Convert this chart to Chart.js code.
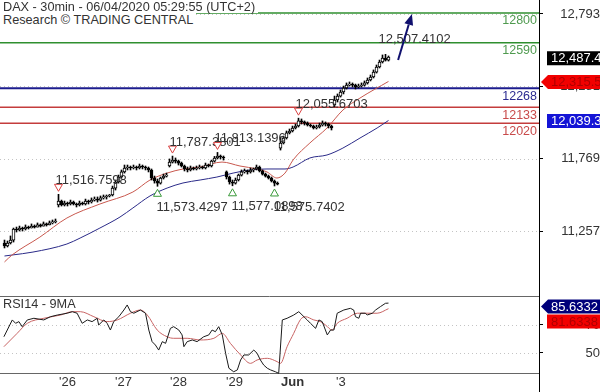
<!DOCTYPE html>
<html><head><meta charset="utf-8">
<script src="https://cdn.jsdelivr.net/npm/chart.js@4.4.1/dist/chart.umd.min.js"></script>
<style>
html,body{margin:0;padding:0;background:#fff;overflow:hidden}
#wrap{position:relative;width:600px;height:392px;background:#fff}
#c1{position:absolute;left:0;top:0}
#c2{position:absolute;left:0;top:296px}
.t{position:absolute;left:0;font:12.7px 'Liberation Sans',Arial,sans-serif;color:#333;background:#fff;padding:0 3px 0 3px;white-space:nowrap}
</style></head><body>
<div id="wrap">
<canvas id="c1" width="600" height="296"></canvas>
<canvas id="c2" width="600" height="96"></canvas>
<div class="t" style="top:0;height:13px;line-height:14px">DAX - 30min - 06/04/2020 05:29:55 (UTC+2)</div>
<div class="t" style="top:13px;height:14px;line-height:14px">Research © TRADING CENTRAL</div>
<div class="t" style="top:298px;line-height:13px">RSI14 - 9MA</div>
</div>
<script>
// ---------------- DATA ----------------
const priceTicks = [12793, 12281, 11769, 11257];
const rsiTicks = [50, 70];
const dayTicks = [18.17, 36.83, 55.17, 73.83, 92.17, 110.5];
const dayLabels = ["'26", "'27", "'28", "'29", "Jun", "'3"];

const opens = [11172,11151,11172,11193,11271,11264,11278,11271,11285,11278,11292,11285,11300,11292,11307,11300,11314,11321,
11441,11469,11441,11455,11448,11462,11448,11441,11455,11448,11469,11462,11476,11483,11476,11491,11498,11505,11512,
11561,11604,11639,11675,11703,11710,11703,11710,11703,11717,11710,11703,11689,11632,11611,11596,11632,11646,
11717,11745,11759,11752,11738,11717,11696,11689,11703,11696,11703,11710,11703,11724,11717,11752,11774,11788,11781,
11675,11639,11604,11596,11618,11653,11675,11682,11675,11689,11696,11710,11682,11660,11646,11632,11611,11596,
11844,11880,11915,11951,11965,11986,12000,12036,12029,12021,12007,12000,11986,11993,12007,12021,12014,12000,
12149,12184,12212,12241,12269,12290,12297,12290,12276,12283,12290,12305,12326,12347,12382,12418,12453,12481,12467];
const closes = [11151,11172,11193,11271,11264,11278,11271,11285,11278,11292,11285,11300,11292,11307,11300,11314,11321,11328,
11469,11441,11455,11448,11462,11448,11441,11455,11448,11469,11462,11476,11483,11476,11491,11498,11505,11512,11561,
11604,11639,11675,11703,11710,11703,11710,11703,11717,11710,11703,11689,11632,11611,11596,11632,11646,11653,
11745,11759,11752,11738,11717,11696,11689,11703,11696,11703,11710,11703,11724,11717,11752,11774,11788,11781,11774,
11639,11604,11596,11618,11653,11675,11682,11675,11689,11696,11710,11682,11660,11646,11632,11611,11596,11589,
11880,11915,11951,11965,11986,12000,12036,12029,12021,12007,12000,11986,11993,12007,12021,12014,12000,11986,
12184,12212,12241,12269,12290,12297,12290,12276,12283,12290,12305,12326,12347,12382,12418,12453,12481,12467,12487.4];
const highs = [11193,11186,11222,11278,11285,11292,11285,11300,11292,11307,11300,11314,11307,11321,11314,11328,11335,11342,
11516.7598,11476,11469,11462,11476,11469,11455,11469,11462,11483,11476,11491,11498,11498,11505,11512,11512,11516,11575,
11618,11653,11689,11724,11724,11717,11724,11717,11731,11724,11717,11710,11696,11646,11625,11639,11660,11667,
11767,11787.3801,11774,11759,11745,11724,11710,11717,11710,11717,11724,11717,11738,11731,11759,11785,11813.1396,11795,11788,
11682,11646,11618,11632,11660,11689,11696,11689,11703,11703,11724,11717,11689,11667,11653,11639,11618,11604,
11922,11929,11965,11979,12000,12014,12055.6703,12050,12036,12029,12014,12007,12007,12021,12036,12029,12021,12007,
12212,12227,12255,12283,12305,12312,12305,12297,12297,12305,12319,12340,12361,12397,12432,12467,12503,12507.4102,12496];
const lows = [11137,11144,11165,11179,11250,11257,11257,11264,11271,11278,11278,11285,11285,11292,11292,11300,11307,11314,
11427,11434,11434,11434,11441,11441,11427,11434,11441,11441,11448,11455,11469,11462,11469,11483,11483,11498,11505,
11547,11596,11632,11667,11689,11689,11696,11689,11696,11696,11689,11675,11618,11596,11573.4297,11589,11625,11639,
11710,11738,11738,11724,11710,11682,11675,11682,11689,11689,11696,11696,11696,11710,11710,11745,11767,11767,11759,
11625,11589,11577.0898,11589,11611,11646,11667,11660,11667,11675,11689,11675,11653,11639,11625,11604,11575.7402,11583,
11830,11873,11908,11944,11958,11979,11993,12014,12007,12000,11993,11979,11979,11986,12000,12000,11986,11972,
12135,12170,12205,12227,12262,12283,12276,12262,12269,12276,12283,12297,12319,12340,12375,12411,12446,12460,12460];

const maRedX = [0,2.5,11.8,20.8,31.8,42.8,48.5,54.2,59.5,65.2,72.5,78.5,84.2,87.5,90.8,93.5,96.2,101.8,107.5,112.8,118.5,128];
const maRedV = [11038,11087,11214,11349,11448,11533,11618,11667,11696,11710,11745,11717,11696,11675,11632,11667,11760,11880,11986,12113,12198,12315.5];
const maBlueX = [0,2.5,9.5,20.8,25.2,31.8,38.5,42.8,48.5,54.2,59.5,65.2,70.8,76.2,81.8,87.5,93.5,96.2,101.8,107.5,112.8,118.5,124.2,128];
const maBlueV = [11080,11087,11108,11165,11207,11278,11356,11420,11505,11561,11597,11618,11639,11667,11689,11696,11696,11710,11774,11795,11844,11915,11986,12039.3];

const rsiX = [-0.2,2.6,3.7,4.8,5.9,7.6,9.8,13.1,15.3,17.6,20.9,22.6,24.2,25.9,27.6,29.2,30.9,31.4,33.1,34.2,35.3,36.4,38.1,39.8,40.9,42,43.1,45.3,47,48.1,
49.2,50.3,51.4,52.6,53.7,55.3,56.4,58.1,59.2,59.8,60.9,62.6,64.2,66.4,68.1,69.2,70.3,71.4,72.6,73.7,74.8,76.4,77.6,78.7,79.8,81.4,83.1,84.2,85.3,86.4,
87.6,88.7,90.3,91.4,92.6,94.2,96.4,98.1,100.9,102,103.7,104.8,105.9,107.6,108.7,109.8,110.9,113.1,115.3,116.4,117,118.1,118.7,120.3,120.9,122.6,123.7,125.3,127,128];
const rsiV = [61.6,73.6,71.2,72.4,68.8,73.6,74.8,73.6,75.9,77.1,78.4,79.5,78.4,71.2,73.6,72.4,74.8,70.0,73.6,71.2,66.4,72.4,75.9,80.7,84.3,79.5,78.4,80.7,78.4,66.4,
58.1,55.7,52.1,58.1,56.9,67.6,68.8,66.4,62.9,54.5,58.1,59.3,58.1,61.6,62.9,66.4,65.2,68.8,62.9,49.8,39.1,36.6,37.9,45.0,48.6,48.6,52.1,49.8,45.0,41.4,
39.1,37.9,36.6,35.5,73.6,74.8,77.1,79.5,73.6,71.2,67.6,73.6,72.4,62.9,66.4,66.4,78.4,80.7,81.9,80.7,75.9,74.8,78.4,78.4,77.1,78.4,80.7,83.1,85.5,85.6332];
const rsiMaX = [-0.2,4.2,7.6,13.1,18.7,22.6,25.3,29.8,34.2,37.6,42,45.3,47.6,50.9,54.2,56.4,60.9,65.3,69.8,72.6,75.3,78.7,82,84.2,87.6,90.9,92,94.2,96.4,98.7,
100.3,103.1,105.3,107,109.2,110.9,114.2,117.6,120.9,124.2,128];
const rsiMaV = [54.5,64.0,71.2,74.8,77.1,79.5,79.5,75.9,72.4,73.6,78.4,80.7,77.1,66.4,61.6,60.5,60.5,59.3,60.5,64.0,56.9,48.6,42.6,45.0,46.2,43.8,42.6,54.5,64.0,74.0,
75.9,73.6,72.4,70.0,66.4,71.2,74.8,78.4,78.4,78.4,81.6338];

const levelValues = [12800, 12590, 12268, 12133, 12020];
const markIdx = [18, 56, 71, 98, 127, 51, 76, 90];
const markVal = [11516.7598, 11787.3801, 11813.1396, 12055.6703, 12507.4102, 11573.4297, 11577.0898, 11575.7402];
const markKind = ['high', 'high', 'high', 'high', 'label', 'low', 'low', 'low'];
const arrowFrom = [131.2, 12467];
const arrowTo = [135.8, 12793];
const lastPrice = 12487.4, maShortLast = 12315.5, maLongLast = 12039.3;
const rsiLast = 85.6332, rsiMaLast = 81.6338;

// ---------------- STYLES ----------------
const FONT = "'Liberation Sans', Arial, sans-serif";
Chart.defaults.font.family = FONT;
Chart.defaults.color = '#333';
const levelLine = ['#2f8f2f', '#2f8f2f', '#1c1c8e', '#c43c3c', '#c43c3c'];
const levelText = ['#4f9a4f', '#4f9a4f', '#2a2a90', '#c84a4a', '#c84a4a'];
const levelW = [1.5, 1.5, 2, 1.5, 1.5];
const XMIN = -1.5, XMAX = 178.1667;

const fmtC = v => v.toLocaleString('en-US');
const fmt4 = v => v.toLocaleString('en-US', {minimumFractionDigits: 4, maximumFractionDigits: 4});

function tag(ctx, cy, text, bg, fg, arrow) {
  const x0 = 547, x1 = 600, h = 14;
  ctx.fillStyle = bg;
  ctx.beginPath();
  if (arrow) { ctx.moveTo(541, cy); ctx.lineTo(548, cy - h / 2); }
  else ctx.moveTo(x0, cy - h / 2);
  ctx.lineTo(x1, cy - h / 2); ctx.lineTo(x1, cy + h / 2);
  ctx.lineTo(arrow ? 548 : x0, cy + h / 2);
  ctx.closePath(); ctx.fill();
  ctx.fillStyle = fg; ctx.font = '13px ' + FONT;
  ctx.textAlign = 'left'; ctx.textBaseline = 'middle';
  ctx.fillText(text, 551, cy + 0.5);
}

const idx = closes.map((_, i) => i);
const bodies = idx.map(i => ({x: i, y: [opens[i], closes[i]]}));
const wicks = idx.map(i => ({x: i, y: [lows[i], highs[i]]}));
const bodyColors = idx.map(i => closes[i] >= opens[i] ? '#ffffff' : '#000000');
const maRed = maRedX.map((x, k) => ({x, y: maRedV[k]}));
const maBlue = maBlueX.map((x, k) => ({x, y: maBlueV[k]}));
const rsiPts = rsiX.map((x, k) => ({x, y: rsiV[k]}));
const rsiMaPts = rsiMaX.map((x, k) => ({x, y: rsiMaV[k]}));

const pricePlugin = {
  id: 'pricePlugin',
  beforeDatasetsDraw(chart) {
    const {ctx, chartArea: a, scales: {y}} = chart;
    ctx.save();
    ctx.strokeStyle = '#c4c4c4'; ctx.lineWidth = 1; ctx.setLineDash([1, 3]);
    priceTicks.forEach(v => {
      const py = Math.round(y.getPixelForValue(v)) + 0.5;
      ctx.beginPath(); ctx.moveTo(a.left, py); ctx.lineTo(a.right, py); ctx.stroke();
    });
    ctx.setLineDash([]);
    levelValues.forEach((v, k) => {
      const py = y.getPixelForValue(v);
      ctx.strokeStyle = levelLine[k]; ctx.lineWidth = levelW[k];
      ctx.beginPath(); ctx.moveTo(a.left, py); ctx.lineTo(a.right, py); ctx.stroke();
      ctx.fillStyle = levelText[k]; ctx.font = '12.5px ' + FONT;
      ctx.textAlign = 'right'; ctx.textBaseline = 'middle';
      ctx.fillText(String(v), a.right - 2, py + 8);
    });
    ctx.restore();
  },
  afterDatasetsDraw(chart) {
    const {ctx, scales: {x, y}} = chart;
    ctx.save();
    ctx.font = '13px ' + FONT; ctx.textBaseline = 'middle'; ctx.textAlign = 'left';
    markIdx.forEach((i, k) => {
      const px = x.getPixelForValue(i), py = y.getPixelForValue(markVal[k]);
      const kind = markKind[k];
      ctx.lineWidth = 1;
      if (kind === 'high') {
        const cx = px, cy = py - 6.5;
        ctx.beginPath(); ctx.moveTo(cx - 4, cy - 3.5); ctx.lineTo(cx + 4, cy - 3.5); ctx.lineTo(cx, cy + 3.5); ctx.closePath();
        ctx.fillStyle = '#fff'; ctx.fill(); ctx.strokeStyle = '#d84040'; ctx.stroke();
        ctx.fillStyle = '#333'; ctx.fillText(fmt4(markVal[k]), px - 3, py - 14);
      } else if (kind === 'low') {
        const cx = px, cy = py + 6.5;
        ctx.beginPath(); ctx.moveTo(cx - 4, cy + 3.5); ctx.lineTo(cx + 4, cy + 3.5); ctx.lineTo(cx, cy - 3.5); ctx.closePath();
        ctx.fillStyle = '#fff'; ctx.fill(); ctx.strokeStyle = '#3a9a3a'; ctx.stroke();
        ctx.fillStyle = '#333'; ctx.fillText(fmt4(markVal[k]), px - 1, py + 21);
      } else {
        ctx.fillStyle = '#333'; ctx.fillText(fmt4(markVal[k]), px - 7, py - 14.5);
      }
    });
    const x0 = x.getPixelForValue(arrowFrom[0]), y0 = y.getPixelForValue(arrowFrom[1]);
    const x1 = x.getPixelForValue(arrowTo[0]), y1 = y.getPixelForValue(arrowTo[1]);
    const ang = Math.atan2(y1 - y0, x1 - x0), L = 11, W = 4.5;
    const bx = x1 - L * Math.cos(ang), by = y1 - L * Math.sin(ang);
    ctx.strokeStyle = '#10106e'; ctx.lineWidth = 2;
    ctx.beginPath(); ctx.moveTo(x0, y0); ctx.lineTo(bx, by); ctx.stroke();
    ctx.fillStyle = '#10106e';
    ctx.beginPath(); ctx.moveTo(x1, y1);
    ctx.lineTo(bx + W * Math.sin(ang), by - W * Math.cos(ang));
    ctx.lineTo(bx - W * Math.sin(ang), by + W * Math.cos(ang));
    ctx.closePath(); ctx.fill();
    ctx.restore();
  },
  afterDraw(chart) {
    const {ctx, scales: {y}} = chart;
    ctx.save();
    tag(ctx, y.getPixelForValue(lastPrice) + 1, fmtC(lastPrice), '#000000', '#ffffff', false);
    tag(ctx, y.getPixelForValue(maShortLast) + 0.5, fmtC(maShortLast), '#f20000', '#b00000', true);
    tag(ctx, y.getPixelForValue(maLongLast) + 0.5, fmtC(maLongLast), '#1414d6', '#ffffff', false);
    ctx.restore();
  }
};

const rsiPlugin = {
  id: 'rsiPlugin',
  beforeDatasetsDraw(chart) {
    const {ctx, chartArea: a, scales: {y}} = chart;
    ctx.save();
    ctx.strokeStyle = '#c4c4c4'; ctx.lineWidth = 1; ctx.setLineDash([1, 3]);
    rsiTicks.forEach(v => {
      const py = Math.round(y.getPixelForValue(v)) + 0.5;
      ctx.beginPath(); ctx.moveTo(a.left, py); ctx.lineTo(a.right, py); ctx.stroke();
    });
    ctx.setLineDash([]);
    ctx.strokeStyle = '#666'; ctx.lineWidth = 1;
    ctx.beginPath(); ctx.moveTo(a.left, a.top + 0.5); ctx.lineTo(a.right, a.top + 0.5); ctx.stroke();
    ctx.beginPath(); ctx.moveTo(a.left, a.bottom - 0.5); ctx.lineTo(a.right, a.bottom - 0.5); ctx.stroke();
    ctx.strokeStyle = '#000';
    ctx.beginPath(); ctx.moveTo(a.right + 0.5, a.bottom); ctx.lineTo(a.right + 0.5, chart.height); ctx.stroke();
    ctx.restore();
  },
  afterDraw(chart) {
    const {ctx, scales: {y}} = chart;
    ctx.save();
    const c1 = y.getPixelForValue(rsiLast) + 3.5;
    tag(ctx, c1, String(rsiLast), '#00007a', '#ffffff', true);
    tag(ctx, c1 + 15, String(rsiMaLast), '#f20000', '#b00000', false);
    ctx.restore();
  }
};

const fixW = s => { s.width = 61; s.paddingTop = 0; s.paddingBottom = 0; };

new Chart(document.getElementById('c1'), {
  type: 'bar',
  data: {datasets: [
    {type: 'bar', data: bodies, backgroundColor: bodyColors, borderColor: '#000', borderWidth: 1, borderSkipped: false, barThickness: 3, minBarLength: 1, grouped: false, order: 0},
    {type: 'bar', data: wicks, backgroundColor: '#000', borderWidth: 0, barThickness: 1, grouped: false, order: 1},
    {type: 'line', data: maRed, borderColor: '#c8584e', borderWidth: 1, pointRadius: 0, cubicInterpolationMode: 'monotone', order: 2},
    {type: 'line', data: maBlue, borderColor: '#2a2a88', borderWidth: 1, pointRadius: 0, cubicInterpolationMode: 'monotone', order: 3}
  ]},
  options: {
    responsive: false, animation: false, devicePixelRatio: 1, events: [],
    layout: {padding: 0, autoPadding: false},
    plugins: {legend: {display: false}, tooltip: {enabled: false}},
    scales: {
      x: {type: 'linear', min: XMIN, max: XMAX, display: false, offset: false, bounds: 'data'},
      y: {
        type: 'linear', position: 'right', min: 10797, max: 12892, bounds: 'data',
        afterBuildTicks: s => { s.ticks = priceTicks.map(v => ({value: v})); },
        afterFit: fixW,
        grid: {drawOnChartArea: false, drawTicks: true, tickLength: 4, color: '#000'},
        border: {display: true, color: '#000', width: 1},
        ticks: {padding: 14, crossAlign: 'far', color: '#333', font: {size: 13}, callback: v => fmtC(v)}
      }
    }
  },
  plugins: [pricePlugin]
});

new Chart(document.getElementById('c2'), {
  type: 'line',
  data: {datasets: [
    {data: rsiPts, borderColor: '#1a1a1a', borderWidth: 1, pointRadius: 0, tension: 0, order: 0},
    {data: rsiMaPts, borderColor: '#c86464', borderWidth: 1, pointRadius: 0, cubicInterpolationMode: 'monotone', order: 1}
  ]},
  options: {
    responsive: false, animation: false, devicePixelRatio: 1, events: [],
    layout: {padding: 0, autoPadding: false},
    plugins: {legend: {display: false}, tooltip: {enabled: false}},
    scales: {
      x: {
        type: 'linear', min: XMIN, max: XMAX, offset: false, bounds: 'data', position: 'bottom',
        afterBuildTicks: s => { s.ticks = dayTicks.map(v => ({value: v})); },
        afterFit: s => { s.height = 18; s.paddingLeft = 0; s.paddingRight = 0; },
        grid: {display: false, drawTicks: false},
        border: {display: false},
        ticks: {
          align: 'start', padding: 1, autoSkip: false, maxRotation: 0, minRotation: 0, color: '#333',
          font: c => ({size: 13, weight: dayLabels[c.index] === 'Jun' ? 'bold' : 'normal'}),
          callback: (v, i) => dayLabels[i]
        }
      },
      y: {
        type: 'linear', position: 'right', min: 35, max: 90.7, bounds: 'data',
        afterBuildTicks: s => { s.ticks = rsiTicks.map(v => ({value: v})); },
        afterFit: fixW,
        grid: {drawOnChartArea: false, drawTicks: true, tickLength: 4, color: '#000'},
        border: {display: true, color: '#000', width: 1},
        ticks: {padding: 39, crossAlign: 'far', color: '#333', font: {size: 13}, callback: v => String(v)}
      }
    }
  },
  plugins: [rsiPlugin]
});
</script>
</body></html>
